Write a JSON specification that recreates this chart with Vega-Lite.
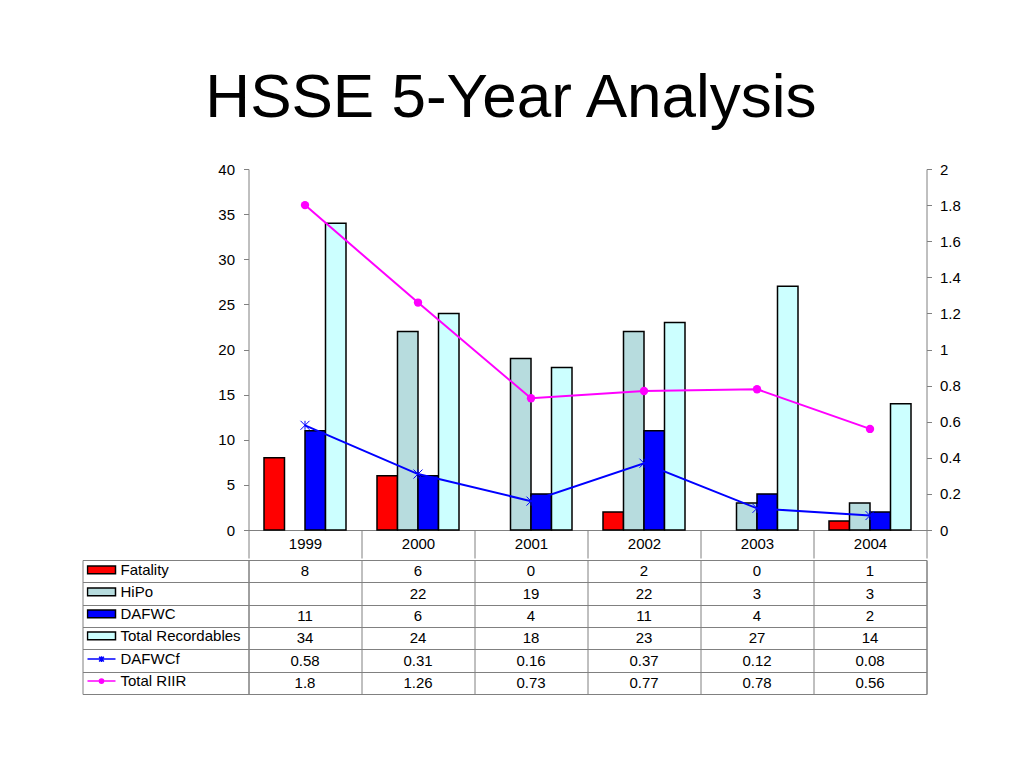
{
  "$schema": "https://vega.github.io/schema/vega-lite/v6.json",
  "padding": {"left": 81.5, "top": 66, "right": 5, "bottom": 5},
  "background": "white",
  "title": {"text": "HSSE 5-Year Analysis", "fontSize": 62, "font": "Liberation Sans", "fontWeight": "normal", "color": "black", "anchor": "middle", "frame": "bounds", "offset": 32.5, "dx": -10},
  "datasets": {
    "hsse": [
      {"year": "1999", "series": "Fatality", "value": 8},
      {"year": "2000", "series": "Fatality", "value": 6},
      {"year": "2001", "series": "Fatality", "value": 0},
      {"year": "2002", "series": "Fatality", "value": 2},
      {"year": "2003", "series": "Fatality", "value": 0},
      {"year": "2004", "series": "Fatality", "value": 1},
      {"year": "2000", "series": "HiPo", "value": 22},
      {"year": "2001", "series": "HiPo", "value": 19},
      {"year": "2002", "series": "HiPo", "value": 22},
      {"year": "2003", "series": "HiPo", "value": 3},
      {"year": "2004", "series": "HiPo", "value": 3},
      {"year": "1999", "series": "DAFWC", "value": 11},
      {"year": "2000", "series": "DAFWC", "value": 6},
      {"year": "2001", "series": "DAFWC", "value": 4},
      {"year": "2002", "series": "DAFWC", "value": 11},
      {"year": "2003", "series": "DAFWC", "value": 4},
      {"year": "2004", "series": "DAFWC", "value": 2},
      {"year": "1999", "series": "Total Recordables", "value": 34},
      {"year": "2000", "series": "Total Recordables", "value": 24},
      {"year": "2001", "series": "Total Recordables", "value": 18},
      {"year": "2002", "series": "Total Recordables", "value": 23},
      {"year": "2003", "series": "Total Recordables", "value": 27},
      {"year": "2004", "series": "Total Recordables", "value": 14},
      {"year": "1999", "series": "DAFWCf", "value": 0.58},
      {"year": "2000", "series": "DAFWCf", "value": 0.31},
      {"year": "2001", "series": "DAFWCf", "value": 0.16},
      {"year": "2002", "series": "DAFWCf", "value": 0.37},
      {"year": "2003", "series": "DAFWCf", "value": 0.12},
      {"year": "2004", "series": "DAFWCf", "value": 0.08},
      {"year": "1999", "series": "Total RIIR", "value": 1.8},
      {"year": "2000", "series": "Total RIIR", "value": 1.26},
      {"year": "2001", "series": "Total RIIR", "value": 0.73},
      {"year": "2002", "series": "Total RIIR", "value": 0.77},
      {"year": "2003", "series": "Total RIIR", "value": 0.78},
      {"year": "2004", "series": "Total RIIR", "value": 0.56}
    ]
  },
  "data": {"name": "hsse"},
  "spacing": 0,
  "vconcat": [
    {
      "width": 678,
      "height": 361,
      "view": {"stroke": null},
      "layer": [
        {
          "transform": [
            {"filter": {"field": "series", "oneOf": ["Fatality", "HiPo", "DAFWC", "Total Recordables"]}},
            {"filter": "datum.value > 0"}
          ],
          "mark": {"type": "bar", "stroke": "black", "strokeWidth": 1.5},
          "encoding": {
            "x": {
              "field": "year", "type": "nominal",
              "scale": {"type": "band", "paddingInner": 0, "paddingOuter": 0, "domain": ["1999", "2000", "2001", "2002", "2003", "2004"]},
              "axis": {"orient": "bottom", "title": null, "labelAngle": 0, "domainColor": "#808080", "tickColor": "#808080", "tickBand": "extent", "tickSize": 28, "maxExtent": 27, "labelPadding": -22, "labelFontSize": 15, "labelColor": "black", "grid": false}
            },
            "xOffset": {"field": "series", "type": "nominal", "scale": {"domain": ["Fatality", "HiPo", "DAFWC", "Total Recordables"], "paddingInner": 0, "paddingOuter": 0.756}},
            "y": {
              "field": "value", "type": "quantitative",
              "scale": {"domain": [0, 40]},
              "axis": {"orient": "left", "title": null, "values": [0, 5, 10, 15, 20, 25, 30, 35, 40], "tickSize": 5, "labelPadding": 9, "domainColor": "#808080", "tickColor": "#808080", "labelFontSize": 15, "labelColor": "black", "grid": false, "minExtent": 166, "maxExtent": 166}
            },
            "fill": {
              "field": "series", "type": "nominal",
              "scale": {"domain": ["Fatality", "HiPo", "DAFWC", "Total Recordables"], "range": ["#FF0000", "#B7DCDE", "#0000FF", "#CCFFFF"]},
              "legend": {"orient": "none", "legendX": -162, "legendY": 389.8, "title": null, "padding": 0, "symbolType": "M-1,-0.28L1,-0.28L1,0.28L-1,0.28Z", "symbolSize": 784, "symbolStrokeColor": "black", "symbolStrokeWidth": 1.5, "labelFontSize": 15, "labelColor": "black", "labelOffset": 4, "rowPadding": 0, "clipHeight": 22, "labelLimit": 300}
            }
          }
        },
        {
          "transform": [{"filter": {"field": "series", "oneOf": ["DAFWCf", "Total RIIR"]}}],
          "encoding": {
            "x": {"field": "year", "type": "nominal", "bandPosition": 0.5},
            "y": {
              "field": "value", "type": "quantitative",
              "scale": {"domain": [0, 2]},
              "axis": {"orient": "right", "title": null, "values": [0, 0.2, 0.4, 0.6, 0.8, 1, 1.2, 1.4, 1.6, 1.8, 2], "format": ".1~f", "tickSize": 5, "labelPadding": 8, "domainColor": "#808080", "tickColor": "#808080", "labelFontSize": 15, "labelColor": "black", "grid": false}
            }
          },
          "layer": [
            {
              "mark": {"type": "line", "strokeWidth": 2},
              "encoding": {
                "stroke": {
                  "field": "series", "type": "nominal",
                  "scale": {"domain": ["DAFWCf", "Total RIIR"], "range": ["#0000FF", "#FF00FF"]},
                  "legend": {
                    "orient": "none", "legendX": -162, "legendY": 479.1, "title": null, "padding": 0,
                    "symbolSize": 784, "symbolStrokeWidth": 1.5, "labelFontSize": 15, "labelColor": "black", "labelOffset": 4, "rowPadding": 0, "clipHeight": 22, "labelLimit": 300,
                    "encode": {
                      "symbols": {
                        "update": {
                          "shape": {"signal": "datum.value === 'DAFWCf' ? 'M-1,0L1,0M-0.17,-0.17L0.17,0.17M-0.17,0.17L0.17,-0.17M0,-0.2L0,0.2' : 'M-1,0L1,0M-0.15,0A0.15,0.15 0 1,1 0.15,0A0.15,0.15 0 1,1 -0.15,0Z'"},
                          "fill": {"signal": "datum.value === 'Total RIIR' ? '#FF00FF' : 'transparent'"}
                        }
                      }
                    }
                  }
                }
              }
            },
            {
              "transform": [{"filter": {"field": "series", "equal": "DAFWCf"}}],
              "mark": {"type": "point", "shape": "M-1,-1L1,1M-1,1L1,-1M0,-1L0,1", "size": 81, "filled": false, "stroke": "#0000FF", "strokeWidth": 1, "opacity": 1}
            },
            {
              "transform": [{"filter": {"field": "series", "equal": "Total RIIR"}}],
              "mark": {"type": "point", "shape": "circle", "size": 70, "filled": true, "color": "#FF00FF", "opacity": 1}
            }
          ]
        }
      ],
      "resolve": {"scale": {"y": "independent"}}
    },
    {
      "width": 678,
      "height": 134,
      "view": {"stroke": "#808080", "strokeWidth": 1},
      "mark": {"type": "text", "fontSize": 15, "color": "black"},
      "encoding": {
        "x": {
          "field": "year", "type": "nominal",
          "scale": {"type": "band", "paddingInner": 0, "paddingOuter": 0, "domain": ["1999", "2000", "2001", "2002", "2003", "2004"]},
          "axis": {"orient": "top", "title": null, "labels": false, "ticks": false, "domain": false, "grid": true, "tickBand": "extent", "gridColor": "#808080", "gridOpacity": 1}
        },
        "y": {
          "field": "series", "type": "nominal",
          "scale": {"type": "band", "paddingInner": 0, "paddingOuter": 0, "domain": ["Fatality", "HiPo", "DAFWC", "Total Recordables", "DAFWCf", "Total RIIR"]},
          "axis": {"orient": "left", "title": null, "labels": false, "offset": 166, "ticks": true, "tickSize": -166, "tickBand": "extent", "tickColor": "#808080", "domain": true, "domainColor": "#808080", "grid": true, "gridColor": "#808080", "gridOpacity": 1, "minExtent": 0, "maxExtent": 0}
        },
        "text": {"field": "value", "type": "nominal"}
      }
    }
  ],
  "config": {
    "font": "Liberation Sans",
    "axis": {"labelFont": "Liberation Sans"},
    "legend": {"labelFont": "Liberation Sans"}
  }
}
